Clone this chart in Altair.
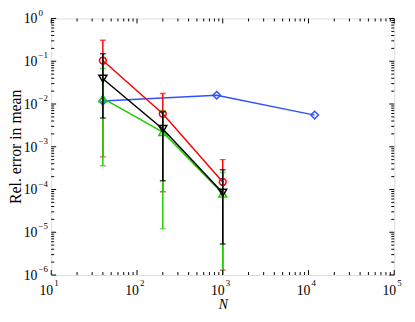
import altair as alt
import pandas as pd

# ---- data ----
N_main = [40, 200, 1000]
red_y = [0.104, 0.0059, 0.00015]
red_lo = [5.8e-4, 8.9e-5, 1.3e-6]
red_hi = [0.31, 0.0177, 5.0e-4]
green_y = [0.0135, 0.0022, 8.0e-5]
green_lo = [3.6e-4, 1.2e-5, 1e-7]
green_hi = [0.068, 0.0069, 2.5e-4]
black_y = [0.039, 0.0026, 8.4e-5]
black_lo = [0.0047, 1.6e-4, 5.3e-6]
black_hi = [0.15, 0.0066, 2.9e-4]
N_blue = [40, 850, 11800]
blue_y = [0.0117, 0.016, 0.0055]

x_exps = [1, 2, 3, 4, 5]
y_exps = [0, -1, -2, -3, -4, -5, -6]
minor_mult = [2, 3, 4, 5, 6, 7, 8, 9]

W, H = 349, 261
FONT = "Liberation Serif"

xs = alt.Scale(type="log", domain=[10, 1e5], nice=False)
ys = alt.Scale(type="log", domain=[1e-6, 1], nice=False)

X = lambda f: alt.X(f, type="quantitative", scale=xs, axis=None)
Y = lambda f: alt.Y(f, type="quantitative", scale=ys, axis=None)

layers = []

def series(n, y, lo, hi, color, shape, size):
    df = pd.DataFrame({"N": n, "y": y})
    out = []
    if lo is not None:
        df["lo"] = lo
        df["hi"] = hi
        base = alt.Chart(df)
        out.append(base.mark_rule(color=color, strokeWidth=1.5, clip=True).encode(
            x=X("N"), y=Y("lo"), y2="hi"))
        out.append(base.mark_tick(color=color, orient="horizontal", size=6, thickness=1.5, clip=True).encode(
            x=X("N"), y=Y("lo")))
        out.append(base.mark_tick(color=color, orient="horizontal", size=6, thickness=1.5, clip=True).encode(
            x=X("N"), y=Y("hi")))
    base = alt.Chart(df)
    out.append(base.mark_line(color=color, strokeWidth=1.5, clip=True).encode(x=X("N"), y=Y("y")))
    out.append(base.mark_point(color=color, shape=shape, size=size, filled=False,
                               strokeWidth=1.5, opacity=1, clip=True).encode(x=X("N"), y=Y("y")))
    return out

layers += series(N_blue, blue_y, None, None, "#3050ff", "diamond", 60)
layers += series(N_main, red_y, red_lo, red_hi, "#ff0000", "circle", 48)
layers += series(N_main, green_y, green_lo, green_hi, "#22cc00", "triangle-up", 65)
layers += series(N_main, black_y, black_lo, black_hi, "#000000", "triangle-down", 65)

# ---- ticks (inward, on all four sides) ----
xmaj = pd.DataFrame({"v": [10.0 ** e for e in x_exps]})
xmin = pd.DataFrame({"v": [m * 10.0 ** e for e in x_exps[:-1] for m in minor_mult]})
ymaj = pd.DataFrame({"v": [10.0 ** e for e in y_exps]})
ymin = pd.DataFrame({"v": [m * 10.0 ** e for e in y_exps[1:] for m in minor_mult]})

for df, L in [(xmaj, 5), (xmin, 3)]:
    layers.append(alt.Chart(df).mark_rule(color="black", strokeWidth=1).encode(
        x=X("v"), y=alt.value(H), y2=alt.value(H - L)))
    layers.append(alt.Chart(df).mark_rule(color="black", strokeWidth=1).encode(
        x=X("v"), y=alt.value(0), y2=alt.value(L)))
for df, L in [(ymaj, 5), (ymin, 3)]:
    layers.append(alt.Chart(df).mark_rule(color="black", strokeWidth=1).encode(
        y=Y("v"), x=alt.value(0), x2=alt.value(L)))
    layers.append(alt.Chart(df).mark_rule(color="black", strokeWidth=1).encode(
        y=Y("v"), x=alt.value(W), x2=alt.value(W - L)))

# ---- tick labels: 10 with superscript exponent ----
def sup(e):
    return ("\u2212" + str(-e)) if e < 0 else str(e)

xl = pd.DataFrame({"v": [10.0 ** e for e in x_exps], "b": ["10"] * len(x_exps),
                   "e": [sup(e) for e in x_exps]})
yl = pd.DataFrame({"v": [10.0 ** e for e in y_exps], "b": ["10"] * len(y_exps),
                   "e": [sup(e) for e in y_exps]})

layers.append(alt.Chart(xl).mark_text(font=FONT, fontSize=14, align="right", baseline="alphabetic", dx=2).encode(
    x=X("v"), y=alt.value(H + 20), text="b:N"))
layers.append(alt.Chart(xl).mark_text(font=FONT, fontSize=9, align="left", baseline="alphabetic", dx=3).encode(
    x=X("v"), y=alt.value(H + 11), text="e:N"))
layers.append(alt.Chart(yl).mark_text(font=FONT, fontSize=14, align="right", baseline="alphabetic", dx=0, dy=5).encode(
    y=Y("v"), x=alt.value(-14), text="b:N"))
layers.append(alt.Chart(yl).mark_text(font=FONT, fontSize=9, align="left", baseline="alphabetic", dx=0, dy=-3).encode(
    y=Y("v"), x=alt.value(-13), text="e:N"))

# ---- axis titles ----
layers.append(alt.Chart(pd.DataFrame({"t": ["N"]})).mark_text(
    font=FONT, fontSize=14, fontStyle="italic", align="center", baseline="alphabetic").encode(
    x=alt.value(W / 2 + 0.5), y=alt.value(H + 35), text="t:N"))
layers.append(alt.Chart(pd.DataFrame({"t": ["Rel. error in mean"]})).mark_text(
    font=FONT, fontSize=16, angle=270, align="center", baseline="middle").encode(
    x=alt.value(-35.5), y=alt.value(H / 2), text="t:N"))

chart = alt.layer(*layers).properties(
    width=W, height=H, autosize="none",
    padding={"left": 44, "top": 8, "right": 13, "bottom": 37},
).configure_view(stroke="black", strokeWidth=2).configure(background="white")

chart.save("out.html", embed_options={"renderer": "svg", "actions": False})
